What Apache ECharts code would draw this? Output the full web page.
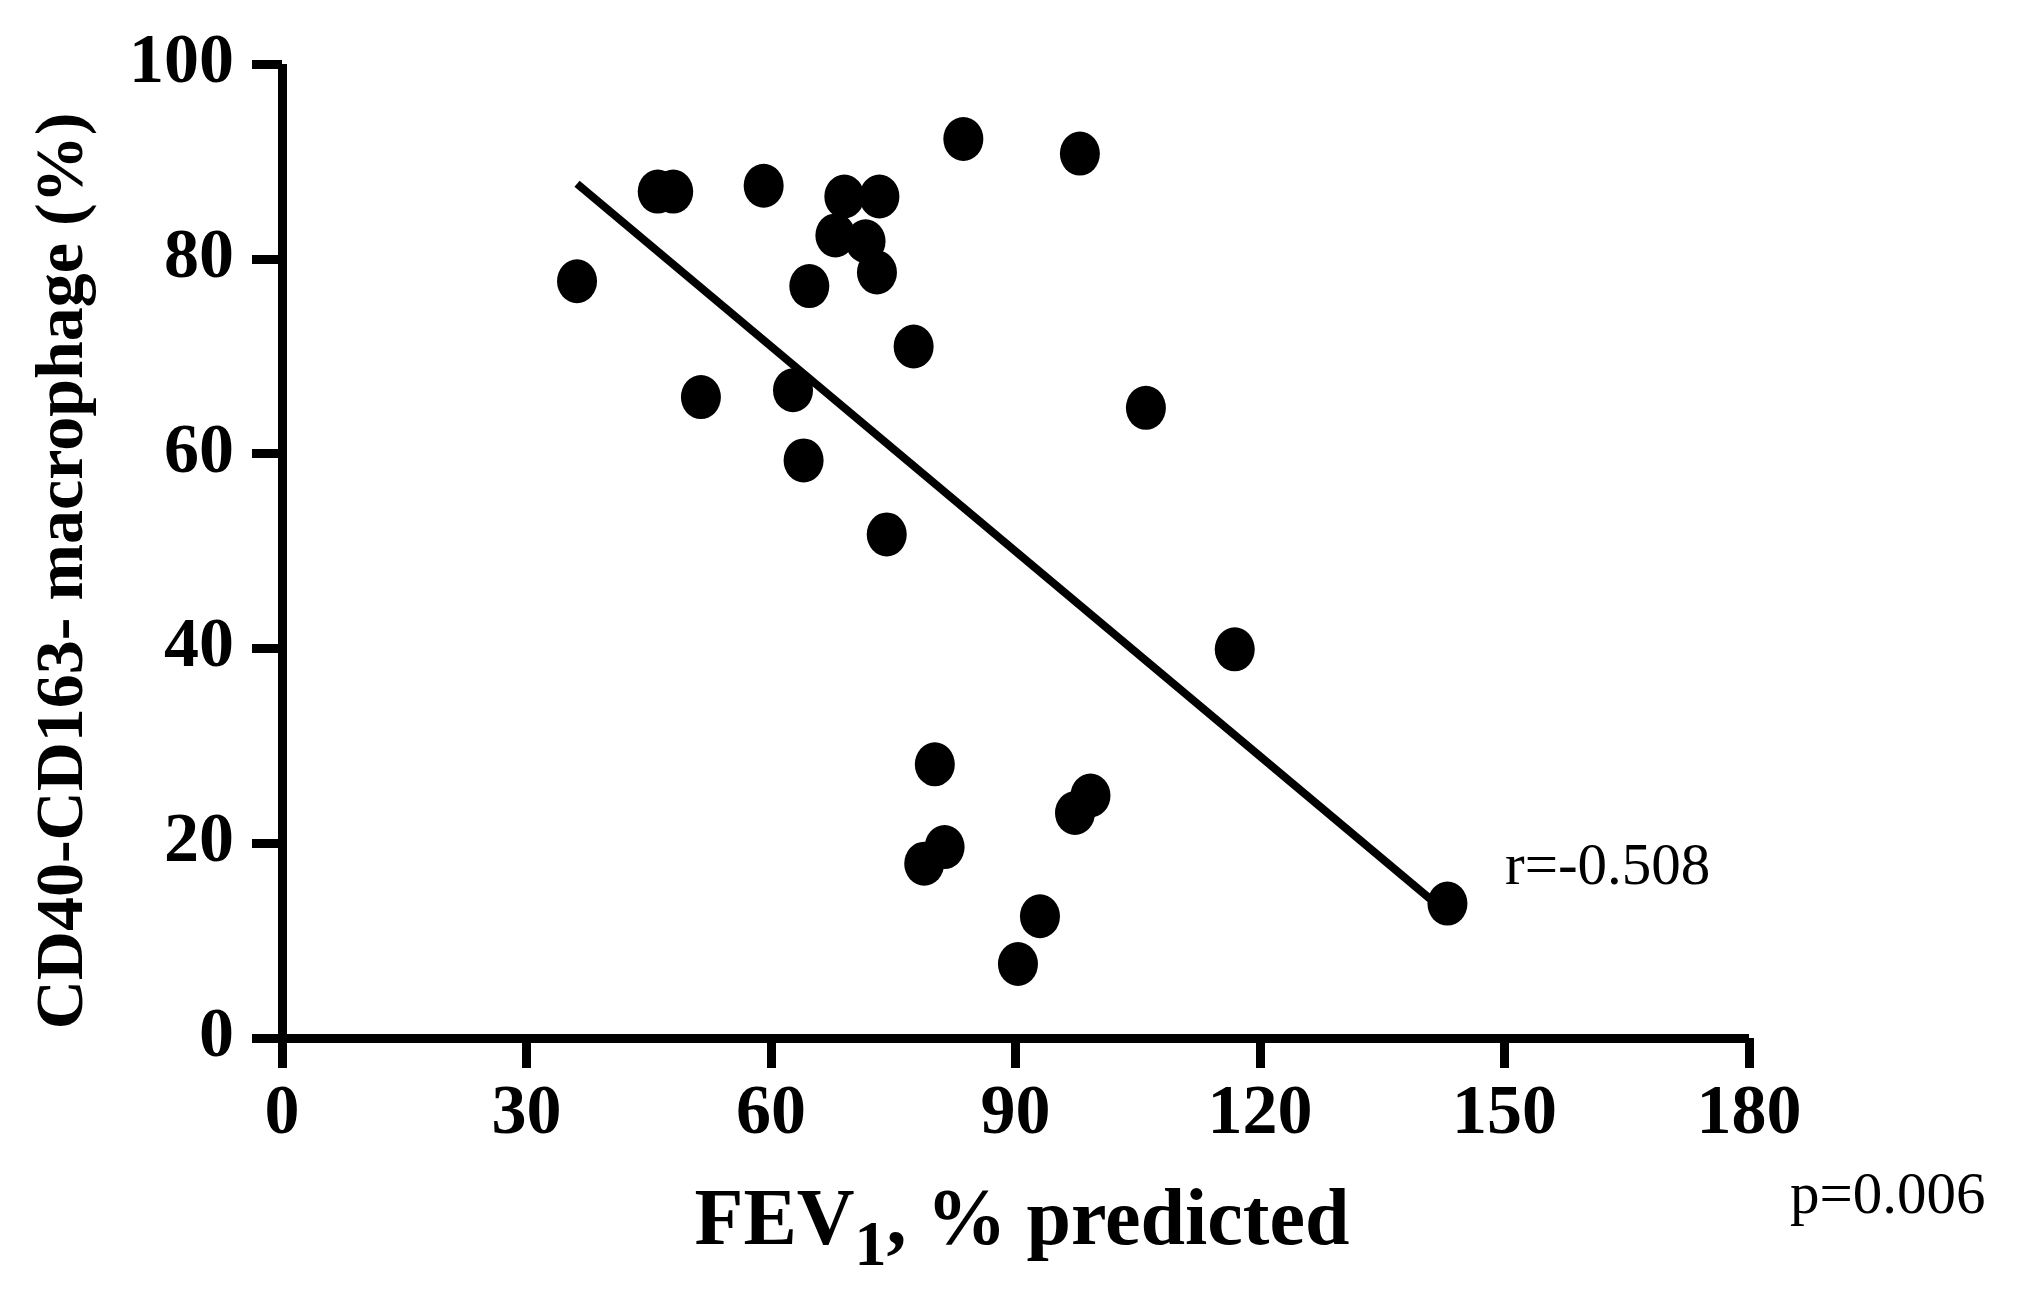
<!DOCTYPE html>
<html>
<head>
<meta charset="utf-8">
<script src="https://cdn.jsdelivr.net/npm/echarts@6/dist/echarts.min.js"></script>
<style>
html,body{margin:0;padding:0;background:#fff;}
#chart{width:2030px;height:1296px;}
</style>
</head>
<body>
<div id="chart"></div>
<script>
// FEV1 % predicted (x) and CD40-CD163- macrophage % (y)
var fevValues = [36.2, 46.1, 48.0, 59.1, 69.0, 73.3, 83.6, 97.9, 67.9, 71.6, 73.0, 64.7, 77.5, 51.4, 62.7, 106.0, 64.0, 74.2, 116.9, 80.1, 97.3, 99.2, 78.8, 81.3, 93.0, 90.3, 143.0];
var macroValues = [77.7, 86.9, 86.9, 87.5, 86.4, 86.4, 92.3, 90.8, 82.4, 81.8, 78.6, 77.2, 71.0, 65.8, 66.5, 64.7, 59.3, 51.7, 39.9, 28.1, 23.1, 24.9, 17.9, 19.6, 12.5, 7.6, 13.8];
// regression line end points
var trendX = [36.2, 143.0];
var trendY = [87.7, 12.8];
var xTicks = [0, 30, 60, 90, 120, 150, 180];
var yTicks = [0, 20, 40, 60, 80, 100];
var annotR = 'r=-0.508';
var annotP = 'p=0.006';
var xTitle = ['FEV', '1', ', % predicted'];
var yTitle = 'CD40-CD163- macrophage (%)';

var FONT = '"Liberation Serif", "Times New Roman", serif';

var scatterData = fevValues.map(function (v, i) { return [v, macroValues[i]]; });
var trendData = trendX.map(function (v, i) { return [v, trendY[i]]; });

var chart = echarts.init(document.getElementById('chart'), null, {renderer: 'canvas'});
var axisCommon = {
  axisLine: {show: true, onZero: false, lineStyle: {color: '#000', width: 9, cap: 'butt'}},
  axisTick: {show: true, length: 30, lineStyle: {color: '#000', width: 9}},
  splitLine: {show: false},
  axisLabel: {color: '#000', fontFamily: FONT, fontWeight: 'bold', fontSize: 70}
};
chart.setOption({
  animation: false,
  backgroundColor: '#fff',
  grid: {left: 282, right: 281, top: 64, bottom: 258},
  xAxis: Object.assign({}, axisCommon, {
    type: 'value', min: xTicks[0], max: xTicks[xTicks.length - 1], interval: xTicks[1] - xTicks[0],
    axisLabel: Object.assign({}, axisCommon.axisLabel, {margin: 42})
  }),
  yAxis: Object.assign({}, axisCommon, {
    type: 'value', min: yTicks[0], max: yTicks[yTicks.length - 1], interval: yTicks[1] - yTicks[0],
    axisLabel: Object.assign({}, axisCommon.axisLabel, {margin: 48})
  }),
  series: [
    {
      type: 'line', data: trendData, symbol: 'none', z: 2,
      lineStyle: {color: '#000', width: 8, opacity: 1}
    },
    {
      type: 'scatter', data: scatterData, z: 3,
      symbol: 'circle', symbolSize: [40, 44],
      itemStyle: {color: '#000', opacity: 1}
    }
  ],
  graphic: [
    {
      type: 'text', x: 64, y: 571, rotation: Math.PI / 2,
      style: {text: yTitle, fill: '#000', font: 'bold 68px ' + FONT, align: 'center', verticalAlign: 'middle'}
    },
    {
      type: 'text', x: 1022, y: 1223,
      style: {
        text: '{a|' + xTitle[0] + '}{s|' + xTitle[1] + '}{a|' + xTitle[2] + '}',
        align: 'center', verticalAlign: 'middle', fill: '#000',
        rich: {
          a: {fontFamily: FONT, fontWeight: 'bold', fontSize: 80, lineHeight: 120, fill: '#000'},
          s: {fontFamily: FONT, fontWeight: 'bold', fontSize: 64, lineHeight: 120, verticalAlign: 'top', padding: [53, 0, 0, 0], fill: '#000'}
        }
      }
    },
    {
      type: 'text', x: 1505, y: 868,
      style: {text: annotR, fill: '#000', font: '59px ' + FONT, align: 'left', verticalAlign: 'middle'}
    },
    {
      type: 'text', x: 1790, y: 1197,
      style: {text: annotP, fill: '#000', font: '59px ' + FONT, align: 'left', verticalAlign: 'middle'}
    }
  ]
});
</script>
</body>
</html>
